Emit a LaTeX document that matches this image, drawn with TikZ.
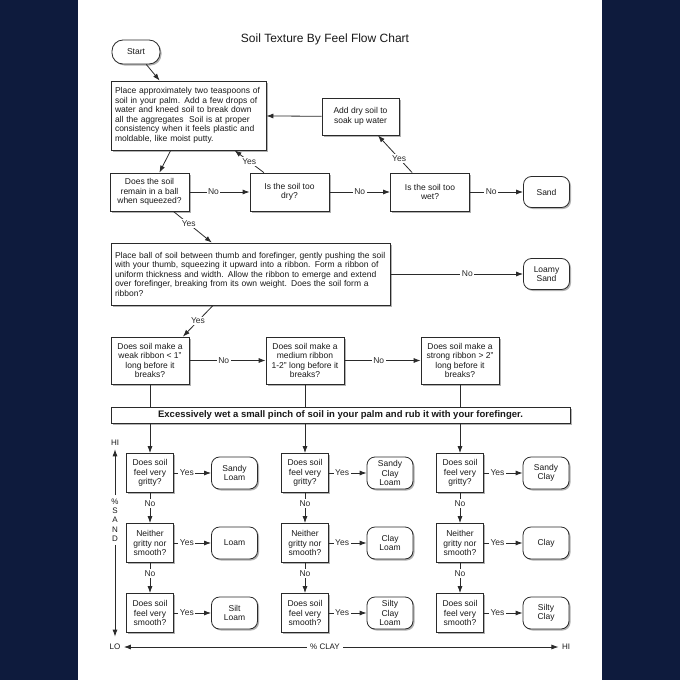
\documentclass[tikz,border=0pt]{standalone}
\usepackage{fontspec}
\setmainfont{Liberation Sans}
\usepackage{tikz}
\usetikzlibrary{arrows.meta,shadows}
\definecolor{navy}{HTML}{0E1B3D}
\definecolor{ink}{HTML}{2A2A2A}

\tikzset{
	box/.style={draw=ink,fill=white,line width=.8pt,inner sep=2pt,align=center,
		drop shadow={shadow xshift=1.5pt,shadow yshift=-1.5pt,fill=black!30,opacity=1}},
	ask/.style={box,minimum width=47pt,minimum height=39pt},
	soil/.style={box,rounded corners=8pt,inner sep=1pt,minimum width=46pt,minimum height=32pt},
	lbl/.style={fill=white,inner sep=1.5pt},
}

\begin{document}
\begin{tikzpicture}[x=1pt,y=-1pt,font=\fontsize{8.5}{9.5}\selectfont,text=black!90,>={Latex[length=7pt,width=5pt]}]
	\fill[navy] (0,0) rectangle (680,680);
	\fill[white] (78,0) rectangle (602,680);
	%
	\node (title) at (325,39) {\fontsize{12}{14}\selectfont Soil Texture By Feel Flow Chart};
	\node[box,rounded corners=11pt,minimum width=48pt,minimum height=24pt] (start) at (136,52) {Start};
	\node[box,align=left,text width=147pt,minimum height=69pt,inner sep=4pt] (place) at (188.5,115.5)
		{Place approximately two teaspoons of\\ soil in your palm.  Add a few drops of\\ water and kneed soil to break down\\ all the aggregates\ \ Soil is at proper\\ consistency when it feels plastic and\\ moldable, like moist putty.};
	\node[box,minimum width=77pt,minimum height=37pt] (drysoil) at (360.5,116.5) {Add dry soil to\\soak up water};
	%
	\node[box,minimum width=79pt,minimum height=38pt] (ball) at (149.5,192) {Does the soil\\remain in a ball\\when squeezed?};
	\node[box,minimum width=79pt,minimum height=38pt] (toodry) at (289.5,192) {Is the soil too\\dry?};
	\node[box,minimum width=79pt,minimum height=38pt] (toowet) at (430,192) {Is the soil too\\wet?};
	\node[soil,minimum height=31pt] (sand) at (546.5,192) {Sand};
	%
	\node[box,align=left,text width=271pt,minimum height=62pt,inner sep=4pt] (ribbon) at (250.5,274)
		{Place ball of soil between thumb and forefinger, gently pushing the soil\\ with your thumb, squeezing it upward into a ribbon.  Form a ribbon of\\ uniform thickness and width.  Allow the ribbon to emerge and extend\\ over forefinger, breaking from its own weight.  Does the soil form a\\ ribbon?};
	\node[soil,minimum height=31pt] (loamysand) at (546.5,274) {Loamy\\Sand};
	%
	\node[box,minimum width=78pt,minimum height=47pt] (weak) at (150,360.5) {Does soil make a\\weak ribbon < 1"\\long before it\\breaks?};
	\node[box,minimum width=78pt,minimum height=47pt] (medium) at (305,360.5) {Does soil make a\\medium ribbon\\1-2" long before it\\breaks?};
	\node[box,minimum width=78pt,minimum height=47pt] (strong) at (460,360.5) {Does soil make a\\strong ribbon > 2"\\long before it\\breaks?};
	%
	\node[box,minimum width=459pt,minimum height=16pt,font=\fontsize{9.5}{10}\selectfont\bfseries] (rub) at (340.5,415)
		{Excessively wet a small pinch of soil in your palm and rub it with your forefinger.};
	%
	\node[ask] (grit1) at (150,473) {Does soil\\feel very\\gritty?};
	\node[ask] (grit2) at (305,473) {Does soil\\feel very\\gritty?};
	\node[ask] (grit3) at (460,473) {Does soil\\feel very\\gritty?};
	\node[ask] (neither1) at (150,543) {Neither\\gritty nor\\smooth?};
	\node[ask] (neither2) at (305,543) {Neither\\gritty nor\\smooth?};
	\node[ask] (neither3) at (460,543) {Neither\\gritty nor\\smooth?};
	\node[ask] (smooth1) at (150,613) {Does soil\\feel very\\smooth?};
	\node[ask] (smooth2) at (305,613) {Does soil\\feel very\\smooth?};
	\node[ask] (smooth3) at (460,613) {Does soil\\feel very\\smooth?};
	%
	\node[soil] (sandyloam) at (234.5,473) {Sandy\\Loam};
	\node[soil] (sandyclayloam) at (390,473) {Sandy\\Clay\\Loam};
	\node[soil] (sandyclay) at (546,473) {Sandy\\Clay};
	\node[soil] (loam) at (234.5,543) {Loam};
	\node[soil] (clayloam) at (390,543) {Clay\\Loam};
	\node[soil] (clay) at (546,543) {Clay};
	\node[soil] (siltloam) at (234.5,613) {Silt\\Loam};
	\node[soil] (siltyclayloam) at (390,613) {Silty\\Clay\\Loam};
	\node[soil] (siltyclay) at (546,613) {Silty\\Clay};
	%
	\node[font=\fontsize{8}{9}\selectfont] (hiS) at (115,443) {HI};
	\node[align=center,font=\fontsize{8}{9.3}\selectfont] (sandS) at (115,520) {\%\\S\\A\\N\\D};
	\node[font=\fontsize{8}{9}\selectfont] (loS) at (115,647) {LO};
	\node[font=\fontsize{8}{9}\selectfont] (clayS) at (325,647) {\% CLAY};
	\node[font=\fontsize{8}{9}\selectfont] (hiC) at (566,647) {HI};
	%
	\path[->,color=ink,line width=.8pt]
	(start) edge (place)
	(place) edge (ball)
	(drysoil) edge (place)
	(ball) edge node[lbl,pos=.4]{No} (toodry)
	(toodry) edge node[lbl]{Yes} (place)
	(toodry) edge node[lbl]{No} (toowet)
	(toowet) edge node[lbl,pos=.38]{Yes} (drysoil)
	(toowet) edge node[lbl,pos=.4]{No} (sand)
	(ball) edge node[lbl,pos=.4]{Yes} (ribbon)
	(ribbon) edge node[lbl,pos=.58]{No} (loamysand)
	(ribbon.-140) edge node[lbl]{Yes} (weak.36)
	(weak) edge node[lbl,pos=.45]{No} (medium)
	(medium) edge node[lbl,pos=.45]{No} (strong);
	%
	\draw[color=ink,line width=.8pt] (weak) -- (weak |- rub.north)
		(medium) -- (medium |- rub.north)
		(strong) -- (strong |- rub.north);
	%
	\path[->,color=ink,line width=.8pt]
	(grit1 |- rub.south) edge (grit1)
	(grit2 |- rub.south) edge (grit2)
	(grit3 |- rub.south) edge (grit3)
	(grit1) edge node[lbl,pos=.35]{Yes} (sandyloam)
	(grit2) edge node[lbl,pos=.35]{Yes} (sandyclayloam)
	(grit3) edge node[lbl,pos=.35]{Yes} (sandyclay)
	(neither1) edge node[lbl,pos=.35]{Yes} (loam)
	(neither2) edge node[lbl,pos=.35]{Yes} (clayloam)
	(neither3) edge node[lbl,pos=.35]{Yes} (clay)
	(smooth1) edge node[lbl,pos=.35]{Yes} (siltloam)
	(smooth2) edge node[lbl,pos=.35]{Yes} (siltyclayloam)
	(smooth3) edge node[lbl,pos=.35]{Yes} (siltyclay)
	(grit1) edge node[lbl,pos=.35]{No} (neither1)
	(grit2) edge node[lbl,pos=.35]{No} (neither2)
	(grit3) edge node[lbl,pos=.35]{No} (neither3)
	(neither1) edge node[lbl,pos=.35]{No} (smooth1)
	(neither2) edge node[lbl,pos=.35]{No} (smooth2)
	(neither3) edge node[lbl,pos=.35]{No} (smooth3);
	%
	\path[->,color=ink,line width=.8pt]
	(sandS) edge (hiS)
	(sandS) edge[shorten >=4pt] (loS)
	(clayS) edge (loS)
	(clayS) edge (hiC);
\end{tikzpicture}
\end{document}
